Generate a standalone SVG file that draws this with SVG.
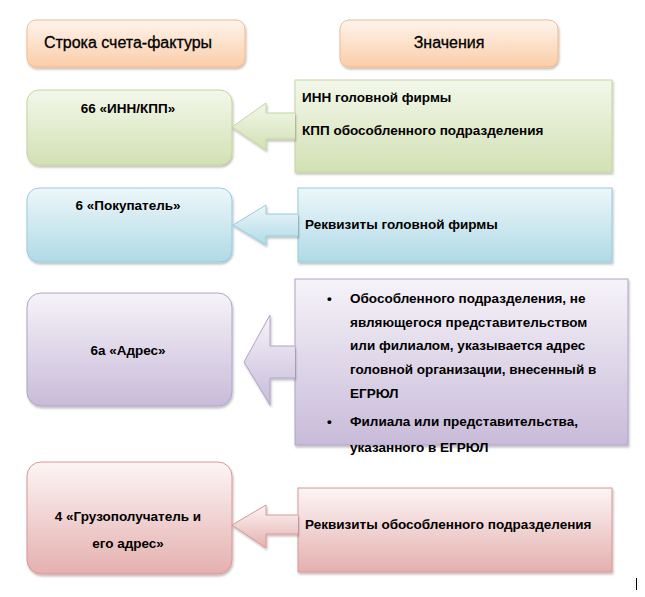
<svg xmlns="http://www.w3.org/2000/svg" width="645" height="597" viewBox="0 0 645 597">
<defs>
<linearGradient id="go" x1="0" y1="0" x2="0" y2="1"><stop offset="0" stop-color="#fef4ec"/><stop offset="1" stop-color="#fbcda8"/></linearGradient>
<linearGradient id="gg" x1="0" y1="0" x2="0" y2="1"><stop offset="0" stop-color="#f3f7ea"/><stop offset="1" stop-color="#d2e1b4"/></linearGradient>
<linearGradient id="gb" x1="0" y1="0" x2="0" y2="1"><stop offset="0" stop-color="#edf7fa"/><stop offset="1" stop-color="#b0dae6"/></linearGradient>
<linearGradient id="gp" x1="0" y1="0" x2="0" y2="1"><stop offset="0" stop-color="#f6f3f9"/><stop offset="1" stop-color="#c8bbd9"/></linearGradient>
<linearGradient id="gr" x1="0" y1="0" x2="0" y2="1"><stop offset="0" stop-color="#fdf5f5"/><stop offset="1" stop-color="#e4b0af"/></linearGradient>
<filter id="sh" x="-5%" y="-5%" width="115%" height="120%"><feDropShadow dx="1" dy="2" stdDeviation="1.2" flood-color="#000" flood-opacity="0.25"/></filter>
</defs>
<style>
text{font-family:"Liberation Sans",Arial,sans-serif;font-weight:bold;font-size:13.5px;fill:#000}
.h{font-size:16px;font-weight:normal;stroke:#000;stroke-width:0.3}
.o{fill:url(#go);stroke:#f4b98c}
.g{fill:url(#gg);stroke:#c3d69b}
.b{fill:url(#gb);stroke:#93cddd}
.p{fill:url(#gp);stroke:#b2a2c7}
.r{fill:url(#gr);stroke:#d99694}
rect,path{filter:url(#sh)}
</style>
<g id="header-left"><rect class="o" x="27" y="20" width="218" height="47" rx="9"/><text class="h" x="128" y="48" text-anchor="middle">Строка счета-фактуры</text></g>
<g id="header-right"><rect class="o" x="340" y="20" width="218" height="47" rx="9"/><text class="h" x="449" y="48" text-anchor="middle">Значения</text></g>

<g id="row1-left"><rect class="g" x="27" y="90" width="205" height="75" rx="12"/><text x="128" y="113" text-anchor="middle">66 «ИНН/КПП»</text></g>
<g id="row1-right"><rect class="g" x="295" y="80" width="317" height="92"/><text x="302" y="102">ИНН головной фирмы</text><text x="302" y="135">КПП обособленного подразделения</text></g>

<g id="row2-left"><rect class="b" x="27" y="188" width="205" height="74" rx="12"/><text x="128" y="210" text-anchor="middle">6 «Покупатель»</text></g>
<g id="row2-right"><rect class="b" x="298" y="188" width="314" height="74"/><text x="305" y="229">Реквизиты головной фирмы</text></g>

<g id="row3-left"><rect class="p" x="27" y="293" width="205" height="113" rx="14"/><text x="128" y="355" text-anchor="middle">6а «Адрес»</text></g>
<g id="row3-right"><rect class="p" x="295" y="279" width="333" height="166"/>
<text x="327" y="303">•</text><text x="350" y="303">Обособленного подразделения, не</text>
<text x="350" y="327">являющегося представительством</text>
<text x="350" y="350">или филиалом, указывается адрес</text>
<text x="350" y="374">головной организации, внесенный в</text>
<text x="350" y="398">ЕГРЮЛ</text>
<text x="327" y="426">•</text><text x="350" y="426">Филиала или представительства,</text>
<text x="350" y="452">указанного в ЕГРЮЛ</text></g>

<g id="row4-left"><rect class="r" x="27" y="462" width="205" height="112" rx="14"/><text x="128" y="521" text-anchor="middle">4 «Грузополучатель и</text><text x="128" y="548" text-anchor="middle">его адрес»</text></g>
<g id="row4-right"><rect class="r" x="298" y="488" width="314" height="84"/><text x="305" y="529">Реквизиты обособленного подразделения</text></g>

<g id="connectors">
<path class="g" d="M295,113 L266,113 L266,103 L232,127 L266,150 L266,139 L295,139"/>
<path class="b" d="M298,214 L266,214 L266,205 L233,225 L266,245 L266,236 L298,236"/>
<path class="p" d="M295,346 L270,346 L270,315 L244,362 L270,405 L270,378 L295,378"/>
<path class="r" d="M298,515 L266,515 L266,505 L232,525 L266,548 L266,534 L298,534"/>
</g>
<line x1="636.5" y1="578" x2="636.5" y2="590" stroke="#000" stroke-width="1"/>
</svg>
